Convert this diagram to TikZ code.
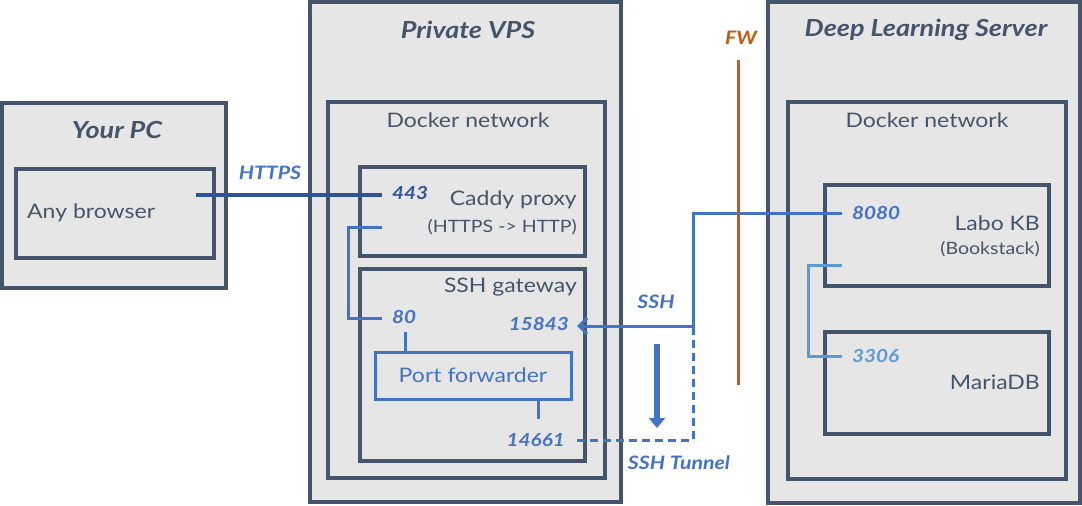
\documentclass[tikz,border=0pt]{standalone}
\usepackage{fontspec}
\setmainfont{Lato}[FakeStretch=1.15]
\usetikzlibrary{arrows.meta}
\definecolor{frame}{HTML}{44546A}
\definecolor{boxfill}{HTML}{E7E6E6}
\definecolor{link}{HTML}{4472C4}
\definecolor{darklink}{HTML}{2F5597}
\definecolor{lightlink}{HTML}{5B9BD5}
\definecolor{fwcol}{HTML}{C55A11}
\definecolor{txt}{HTML}{44546A}
\tikzset{
  box/.style={draw=frame, fill=boxfill, line width=4pt, inner sep=0pt},
  fwdbox/.style={draw=link, fill=boxfill, line width=3pt, inner sep=0pt},
  title/.style={font=\fontsize{23.5}{26}\selectfont\bfseries\itshape, text=txt, inner sep=0pt},
  sub/.style={font=\fontsize{20}{22}\selectfont, text=txt, inner sep=0pt},
  lbl/.style={font=\fontsize{20}{22}\selectfont, text=txt, inner sep=0pt},
  small/.style={font=\fontsize{17}{19}\selectfont, text=txt, inner sep=0pt},
  port/.style={font=\fontsize{18}{20}\selectfont\bfseries\itshape, text=link, inner sep=0pt},
  clabel/.style={font=\fontsize{18.5}{20}\selectfont\bfseries\itshape, text=link, inner sep=0pt},
  conn/.style={draw=link, line width=3pt},
}
\begin{document}
\begin{tikzpicture}[x=1pt,y=-1pt]
\useasboundingbox (0,0) rectangle (1082,506);
% boxes
\node[box, minimum width=224pt, minimum height=185pt] (pc) at (114,195) {};
\node[box, minimum width=198pt, minimum height=89pt] (browser) at (115,213.5) {};
\node[box, minimum width=311pt, minimum height=500pt] (vps) at (465.5,252) {};
\node[box, minimum width=277pt, minimum height=376pt] (vdock) at (466.5,290) {};
\node[box, minimum width=225pt, minimum height=89pt] (caddy) at (472.5,211.5) {};
\node[box, minimum width=225pt, minimum height=192pt] (gw) at (472.5,365) {};
\node[fwdbox, minimum width=196pt, minimum height=47pt] (fwd) at (473,375.5) {};
\node[box, minimum width=312pt, minimum height=501pt] (dls) at (924,252.5) {};
\node[box, minimum width=278pt, minimum height=377pt] (ddock) at (927,290.5) {};
\node[box, minimum width=224pt, minimum height=101pt] (labo) at (937,235.5) {};
\node[box, minimum width=224pt, minimum height=102pt] (maria) at (937,383) {};
% texts
\node[title] (tpc) at (117,130) {Your PC};
\node[lbl, anchor=west] (tbrowser) at (27,213) {Any browser};
\node[title] (tvps) at (468,30) {Private VPS};
\node[sub] (tvdock) at (468,120) {Docker network};
\node[lbl, anchor=east] (tcaddy) at (577,200) {Caddy proxy};
\node[small, anchor=east] (tcaddy2) at (577,227) {(HTTPS -> HTTP)};
\node[lbl, anchor=east] (tgw) at (577,287) {SSH gateway};
\node[lbl, text=link] (tfwd) at (473,375) {Port forwarder};
\node[title] (tdls) at (926,30) {Deep Learning Server};
\node[sub] (tddock) at (927,120) {Docker network};
\node[lbl, anchor=east] (tlabo) at (1040,223) {Labo KB};
\node[small, anchor=east] (tlabo2) at (1040,249) {(Bookstack)};
\node[lbl, anchor=east] (tmaria) at (1040,382) {MariaDB};
% ports
\node[port, text=darklink, anchor=west] (p443) at (392,193) {443};
\node[port, anchor=west] (p80) at (392,317) {80};
\node[port, anchor=east] (p15843) at (569,324) {15843};
\node[port, anchor=east] (p14661) at (565,440) {14661};
\node[port, anchor=west] (p8080) at (852,213) {8080};
\node[port, text=lightlink, anchor=west] (p3306) at (852,356) {3306};
% connector labels
\node[clabel] (lhttps) at (270,173) {HTTPS};
\node[clabel] (lssh) at (656,302) {SSH};
\node[clabel] (ltunnel) at (679,463) {SSH Tunnel};
\node[clabel, text=fwcol] (lfw) at (741,38) {FW};
% coordinates
\coordinate (bout) at (196,195);
\coordinate (c443) at (382,195);
\coordinate (chttp) at (382,227);
\coordinate (c80) at (382,318);
\coordinate (c80d) at (405,332);
\coordinate (cfwdb) at (538,419);
\coordinate (c8080) at (842,213);
\coordinate (cjoin) at (693,326);
\coordinate (c15843) at (577,326);
\coordinate (c14661) at (577,440);
\coordinate (cbook) at (842,265);
\coordinate (c3306) at (842,356);
\coordinate (arrA) at (657,344);
\coordinate (arrB) at (657,428);
\coordinate (fwA) at (738,60);
\coordinate (fwB) at (738,385);
% connectors
\draw[draw=darklink, line width=3.5pt] (bout) -- (c443);
\draw[conn] (chttp) -- (348,227) -- (348,318) -- (c80);
\draw[conn] (c80d) -- (c80d |- fwd.north);
\draw[conn] (cfwdb |- fwd.south) -- (cfwdb);
\draw[conn, -{Straight Barb[length=8pt,width=16pt,line width=3pt]}] (c8080) -- (693,213) -- (cjoin) -- (c15843);
\draw[conn, dash pattern=on 8pt off 5pt] (c14661) -- (693,440) -- (cjoin);
\draw[draw=link, line width=6pt, -{Triangle[length=10pt,width=16pt]}] (arrA) -- (arrB);
\draw[draw=fwcol, line width=3pt] (fwA) -- (fwB);
\draw[draw=lightlink, line width=3pt] (cbook) -- (808,265) -- (808,356) -- (c3306);
\end{tikzpicture}
\end{document}
